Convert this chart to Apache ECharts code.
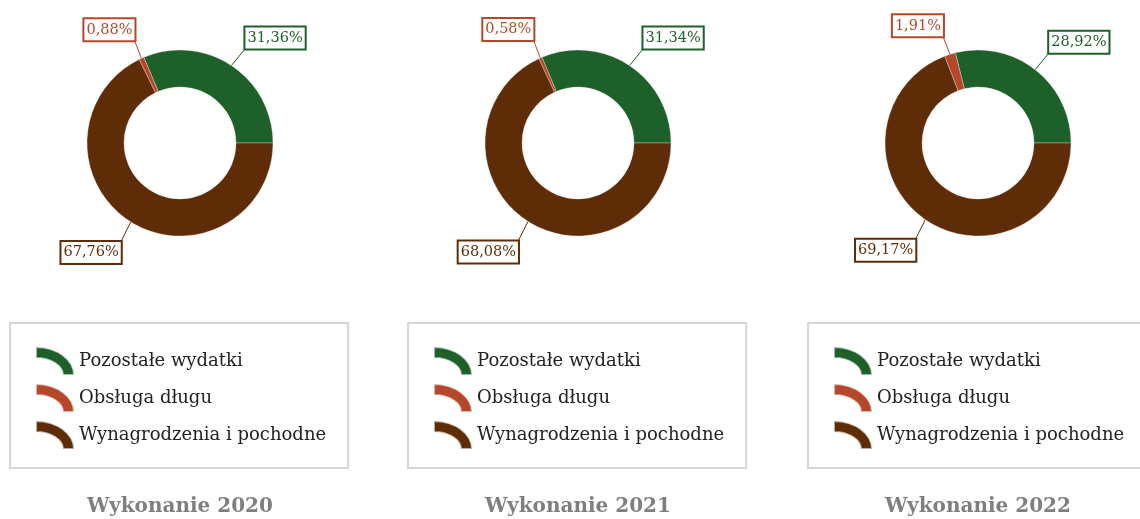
<!DOCTYPE html>
<html>
<head>
<meta charset="utf-8">
<style>
  html, body { margin: 0; padding: 0; background: #fff; }
  #chart { width: 1140px; height: 519px; }
</style>
<script src="https://cdn.jsdelivr.net/npm/echarts@6/dist/echarts.min.js"></script>
</head>
<body>
<div id="chart"></div>
<script>
// Spending structure (% of total) per year
const SLICE_NAMES = ['Pozostałe wydatki', 'Obsługa długu', 'Wynagrodzenia i pochodne'];
const SHARES_2020 = [31.36, 0.88, 67.76];
const SHARES_2021 = [31.34, 0.58, 68.08];
const SHARES_2022 = [28.92, 1.91, 69.17];
const PANEL_TITLES = ['Wykonanie 2020', 'Wykonanie 2021', 'Wykonanie 2022'];

const SLICE_COLORS = ['#1E6029', '#B5482B', '#5E2D07'];
const SERIF = 'DejaVu Serif';

const panels = [SHARES_2020, SHARES_2021, SHARES_2022];
const centersX = [180, 578, 978];
const centerY = 143;
const legendLeft = [10, 408, 808];

function fmtPct(v) {
  return v.toFixed(2).replace('.', ',') + '%';
}

// Place each label box at a corner-offset from the outer-edge point of its slice
function makeLabelLayout(cx) {
  return function (params) {
    const pts = params.labelLinePoints;
    if (!pts) return {};
    const p0 = pts[0];
    const right = p0[0] >= cx;
    const top = p0[1] <= centerY;
    let dx, dy;
    if (right && top) { dx = 14; dy = -17; }
    else if (!right && top) { dx = -7; dy = -18; }
    else if (!right && !top) { dx = -10; dy = 20; }
    else { dx = 10; dy = 20; }
    const corner = [p0[0] + dx, p0[1] + dy];
    return {
      x: corner[0],
      y: corner[1],
      align: right ? 'left' : 'right',
      verticalAlign: top ? 'bottom' : 'top',
      labelLinePoints: [p0, corner, corner]
    };
  };
}

const series = panels.map(function (shares, i) {
  return {
    type: 'pie',
    center: [centersX[i], centerY],
    radius: [56, 93],
    startAngle: 0,
    clockwise: false,
    avoidLabelOverlap: false,
    silent: true,
    itemStyle: { borderColor: 'rgba(255,255,255,0.6)', borderWidth: 0.5 },
    label: {
      show: true,
      position: 'outside',
      formatter: function (p) { return fmtPct(p.value); },
      fontFamily: SERIF,
      fontSize: 14.5,
      lineHeight: 17,
      backgroundColor: '#fff',
      borderWidth: 2,
      padding: [2, 2, 2, 2]
    },
    labelLine: { show: true, length: 10, length2: 0, lineStyle: { width: 1 } },
    labelLayout: makeLabelLayout(centersX[i]),
    data: SLICE_NAMES.map(function (n, k) {
      return {
        name: n,
        value: shares[k],
        itemStyle: { color: SLICE_COLORS[k] },
        label: { color: SLICE_COLORS[k], borderColor: SLICE_COLORS[k] },
        labelLine: { lineStyle: { color: SLICE_COLORS[k] } }
      };
    })
  };
});

// Quarter-ring legend marker
const ARC_ICON = 'path://M0,0 A38,28 0 0 1 38,28 L27,28 A27,17 0 0 0 0,11 Z';

const legends = legendLeft.map(function (x) {
  return {
    data: SLICE_NAMES.slice(),
    orient: 'vertical',
    left: x,
    top: 323,
    icon: ARC_ICON,
    itemWidth: 38,
    itemHeight: 28,
    itemGap: 7,
    padding: [23, 22, 18, 25],
    borderColor: '#d6d6d6',
    borderWidth: 2,
    selectedMode: false,
    textStyle: { fontFamily: SERIF, fontSize: 18, color: '#222' }
  };
});

const titles = PANEL_TITLES.map(function (t, i) {
  return {
    text: t,
    left: centersX[i],
    textAlign: 'center',
    top: 497,
    padding: 0,
    textStyle: { fontFamily: SERIF, fontSize: 20, fontWeight: 'bold', color: '#7f7f7f' }
  };
});

const chart = echarts.init(document.getElementById('chart'), null, { renderer: 'canvas' });
chart.setOption({
  animation: false,
  backgroundColor: '#fff',
  title: titles,
  legend: legends,
  series: series
});
</script>
</body>
</html>
